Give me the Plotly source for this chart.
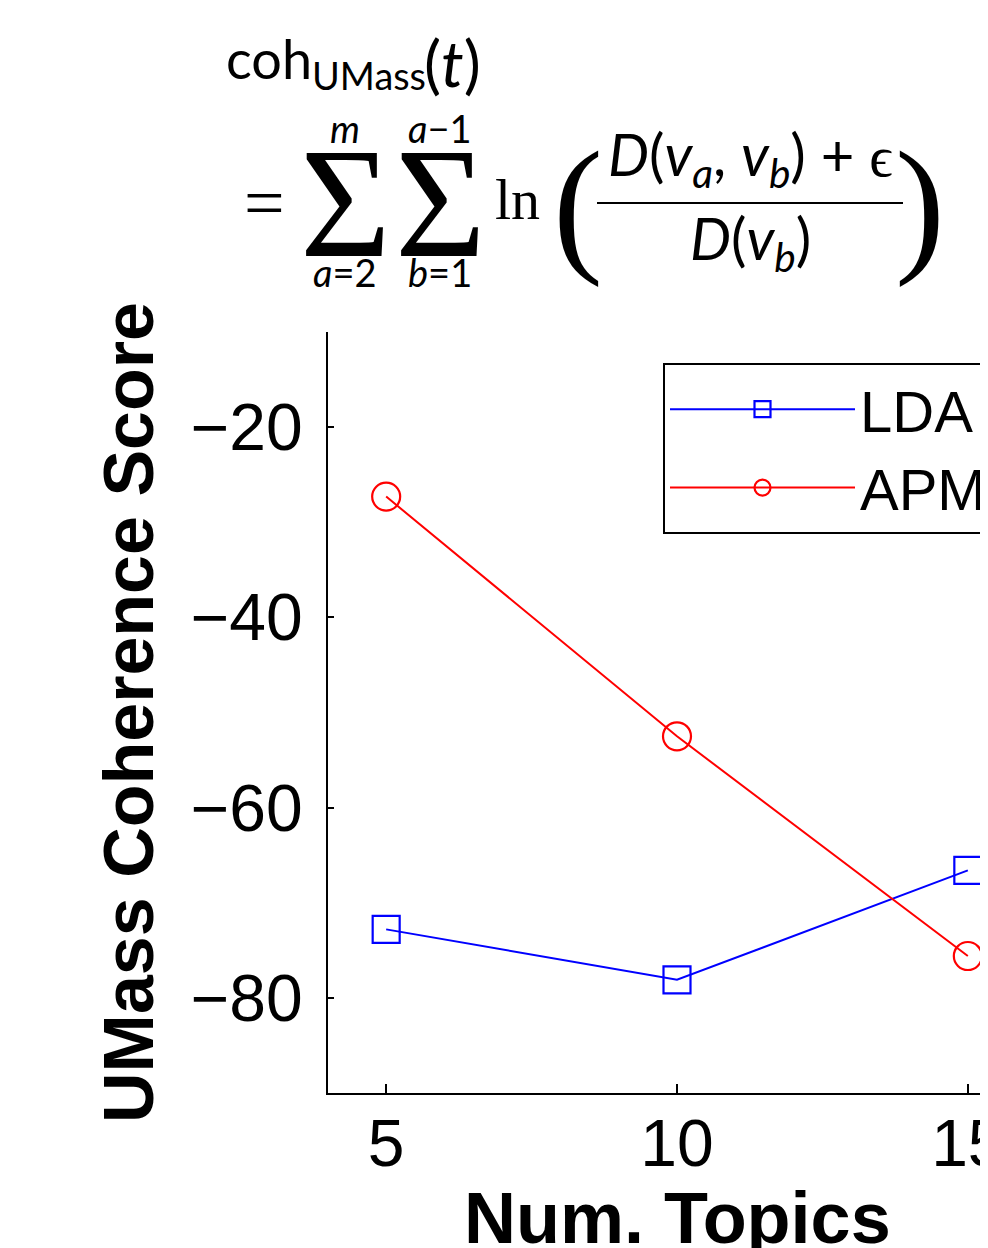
import plotly.graph_objects as go

# ---- data ----
num_topics = [5, 10, 15]
lda_scores = [-72.8, -78.1, -66.6]
apm_scores = [-27.3, -52.5, -75.6]
series_names = ["LDA", "APM"]
y_ticks = [-80, -60, -40, -20]
x_ticks = [5, 10, 15]
x_title = "Num. Topics"
y_title = "UMass Coherence Score"

OFF = 8                      # default page margin around the plot div
W, H = 988 - OFF, 1248 - OFF
L, R, T, B = 328 - OFF, 0, 332 - OFF, 155
PW, PH = W - L - R, H - T - B

# full axis would be [4, 16] ending at page px 1026; the picture is cropped at 988
X_FULL = (4, 16)
X_RIGHT_PX = 1026
x_max = X_FULL[0] + (X_FULL[1] - X_FULL[0]) * (988 - 328) / (X_RIGHT_PX - 328)


def px(x):
    return (x - OFF - L) / PW


def py(y):
    return (H - B - (y - OFF)) / PH


fig = go.Figure()
fig.add_trace(go.Scatter(
    x=num_topics, y=lda_scores, name=series_names[0], mode="lines+markers",
    line=dict(color="#0000FF", width=2),
    marker=dict(symbol="square-open", size=27, color="#0000FF", line=dict(width=2.2, color="#0000FF")),
))
fig.add_trace(go.Scatter(
    x=num_topics, y=apm_scores, name=series_names[1], mode="lines+markers",
    line=dict(color="#FF0000", width=2),
    marker=dict(symbol="circle-open", size=28, color="#FF0000", line=dict(width=2.2, color="#FF0000")),
))

ann = []
SANS = "Lato, 'DejaVu Sans', sans-serif"
SERIF = "'Liberation Serif', 'DejaVu Serif', serif"


def add(text, x, y, size, family=SANS, xanchor="center", yanchor="middle"):
    ann.append(dict(text=text, x=px(x), y=py(y), xref="paper", yref="paper",
                    showarrow=False, xanchor=xanchor, yanchor=yanchor,
                    font=dict(size=size, family=family, color="black")))


# formula line 1
add("coh<sub>UMass</sub>", 224, 62, 54, xanchor="left")
add("(<i>t</i>)", 422, 62, 64, xanchor="left")
# formula line 2
add("=", 264, 203, 72, family=SERIF)
add("Σ", 345, 203, 156, family=SERIF)
add("Σ", 440, 203, 156, family=SERIF)
add("<i>m</i>", 345, 128, 38)
add("<i>a</i>−1", 440, 128, 38)
add("<i>a</i>=2", 345, 272, 38)
add("<i>b</i>=1", 440, 272, 38)
add("ln", 517, 200, 58, family=SERIF)
add("(", 578, 205, 150, family=SERIF)
add(")", 920, 205, 150, family=SERIF)
add("<i>D</i>(<i>v<sub>a</sub></i>, <i>v<sub>b</sub></i>) + <span style='font-family:Liberation Serif'>ϵ</span>",
    750, 158, 58)
add("<i>D</i>(<i>v<sub>b</sub></i>)", 750, 242, 58)

# x-axis title, centred on the full (uncropped) axis as in the original figure
ann.append(dict(text="<b>" + x_title + "</b>", x=sum(X_FULL) / 2, y=py(1176), xref="x", yref="paper",
                showarrow=False, xanchor="center", yanchor="top",
                font=dict(size=72, family="'Liberation Sans', Arial, sans-serif", color="black")))

fig.add_shape(type="line", xref="paper", yref="paper",
              x0=px(597), x1=px(903), y0=py(203), y1=py(203),
              line=dict(color="black", width=2))

fig.update_layout(
    width=W, height=H,
    margin=dict(l=L, r=R, t=T, b=B, pad=0, autoexpand=False),
    paper_bgcolor="white", plot_bgcolor="white",
    font=dict(family="'Liberation Sans', Arial, sans-serif", color="black"),
    annotations=ann,
    legend=dict(
        x=px(663), y=py(363), xanchor="left", yanchor="top",
        bordercolor="black", borderwidth=2, bgcolor="white",
        font=dict(size=58, family="'Liberation Sans', Arial, sans-serif"),
        itemwidth=185, tracegroupgap=0,
    ),
    xaxis=dict(
        range=[X_FULL[0], x_max], tickvals=x_ticks, ticks="inside", ticklen=9,
        tickwidth=1.5, tickcolor="black", automargin=False,
        showline=True, linecolor="black", linewidth=2, mirror=False,
        showgrid=False, zeroline=False, ticklabeloverflow="allow",
        tickfont=dict(size=66), ticklabelstandoff=-8,
    ),
    yaxis=dict(
        range=[-90, -10], tickvals=y_ticks, ticks="inside", ticklen=6,
        tickwidth=1.5, tickcolor="black", automargin=False,
        showline=True, linecolor="black", linewidth=2, mirror=False,
        showgrid=False, zeroline=False,
        tickfont=dict(size=66), ticklabelstandoff=10,
        title=dict(text="<b>" + y_title + "</b>", font=dict(size=70), standoff=14),
    ),
)

fig.write_html("out.html")
